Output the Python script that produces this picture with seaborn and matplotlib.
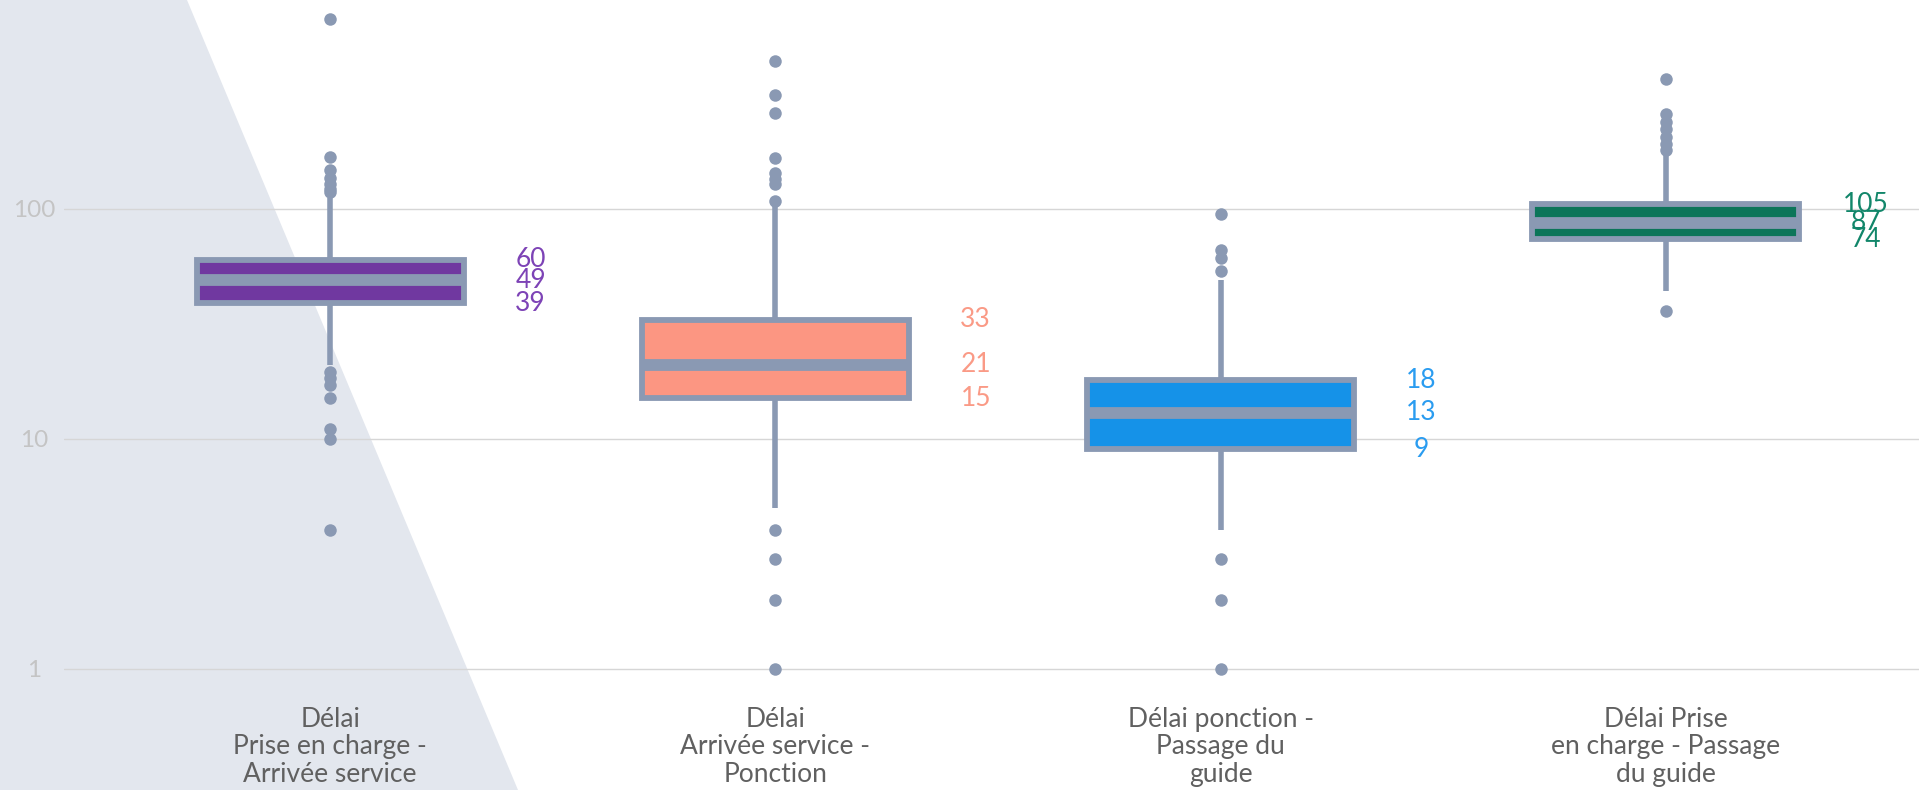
import matplotlib
matplotlib.use("Agg")
import matplotlib.pyplot as plt
import matplotlib.ticker as mticker
from matplotlib.patches import Polygon
import pandas as pd
import seaborn as sns

categories = [
    "Délai\nPrise en charge -\nArrivée service",
    "Délai\nArrivée service -\nPonction",
    "Délai ponction -\nPassage du\nguide",
    "Délai Prise\nen charge - Passage\ndu guide",
]
q1 = [39, 15, 9, 74]
median = [49, 21, 13, 87]
q3 = [60, 33, 18, 105]
whisker_low = [21, 5, 4, 44]
whisker_high = [112, 105, 49, 175]
outliers = [
    [670, 169, 148, 137, 128, 122, 118, 19.6, 18.5, 17.2, 15, 11, 10, 4],
    [438, 314, 262, 167, 144, 135, 128, 108, 4, 3, 2, 1],
    [95, 66, 61, 54, 3, 2, 1],
    [366, 260, 238, 222, 206, 191, 180, 36],
]
fill_colors = ["#7038a0", "#fc9682", "#1592e8", "#0c7559"]
text_colors = ["#7d43b6", "#fa9a86", "#2a9cf0", "#12866a"]
edge = "#8a99b3"

sns.set_theme(style="white")
plt.rcParams["font.family"] = ["Lato", "DejaVu Sans"]

fig = plt.figure(figsize=(19.19, 7.9), dpi=100)
fig.patches.append(Polygon([(0, 1), (187 / 1919, 1), (518 / 1919, 0), (0, 0)],
                           closed=True, transform=fig.transFigure,
                           facecolor="#e3e7ee", edgecolor="none", zorder=-5))
ax = fig.add_axes([64 / 1919, 100 / 790, 1 - 64 / 1919, 690 / 790])
ax.set_zorder(2)
ax.set_facecolor("none")

flier_df = pd.DataFrame(
    [(categories[i], v) for i, vals in enumerate(outliers) for v in vals],
    columns=["cat", "value"],
)
sns.stripplot(data=flier_df, x="cat", y="value", order=categories, jitter=False,
              color=edge, size=9, linewidth=0, ax=ax, zorder=3)

stats = [
    dict(q1=q1[i], med=median[i], q3=q3[i], whislo=whisker_low[i],
         whishi=whisker_high[i], fliers=[])
    for i in range(len(categories))
]
bp = ax.bxp(stats, positions=range(len(categories)), widths=0.6,
            showcaps=False, showfliers=False, patch_artist=True,
            boxprops=dict(edgecolor=edge, linewidth=4.2),
            whiskerprops=dict(color=edge, linewidth=4, solid_capstyle="butt"),
            medianprops=dict(color=edge, linewidth=8.5, solid_capstyle="butt"),
            zorder=2)
for patch, c in zip(bp["boxes"], fill_colors):
    patch.set_facecolor(c)
    patch.set_zorder(4)
for m in bp["medians"]:
    m.set_zorder(5)

for i in range(len(categories)):
    for v in (q3[i], median[i], q1[i]):
        ax.text(i + 0.45, v, str(v), ha="center", va="center",
                color=text_colors[i], fontsize=19)

ax.set_yscale("log")
ax.set_ylim(0.81, 810)
ax.set_xlim(-0.598, 3.569)
ax.set_yticks([1, 10, 100])
ax.set_yticklabels(["1", "10", "100"])
ax.yaxis.set_minor_locator(mticker.NullLocator())
ax.yaxis.grid(True, color="#d6d6d6", linewidth=1)
ax.set_axisbelow(True)
ax.tick_params(axis="y", length=0, pad=21.6, labelsize=17.5, labelcolor="#c4c4c4")
for lbl in ax.get_yticklabels():
    lbl.set_ha("center")
ax.set_xticks(range(len(categories)))
ax.set_xticklabels(categories, linespacing=1.13)
ax.tick_params(axis="x", length=0, pad=12, labelsize=19, labelcolor="#606060")
ax.set_xlabel("")
ax.set_ylabel("")
for s in ax.spines.values():
    s.set_visible(False)

fig.savefig("out.png", dpi=100, facecolor="white")
